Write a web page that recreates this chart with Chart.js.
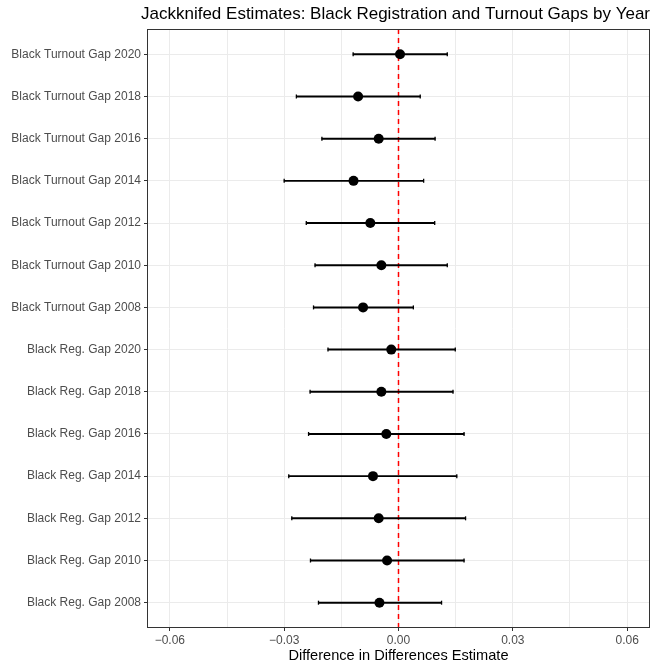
<!DOCTYPE html>
<html>
<head>
<meta charset="utf-8">
<script src="https://cdn.jsdelivr.net/npm/chart.js@4"></script>
<style>
  html, body { margin: 0; padding: 0; background: #fff; }
  #wrap { width: 658px; height: 668px; }
</style>
</head>
<body>
<div id="wrap"><canvas id="forest"></canvas></div>
<script>
// rows listed bottom to top
const labels = [
    'Black Reg. Gap 2008', 'Black Reg. Gap 2010', 'Black Reg. Gap 2012', 'Black Reg. Gap 2014',
    'Black Reg. Gap 2016', 'Black Reg. Gap 2018', 'Black Reg. Gap 2020',
    'Black Turnout Gap 2008', 'Black Turnout Gap 2010', 'Black Turnout Gap 2012', 'Black Turnout Gap 2014',
    'Black Turnout Gap 2016', 'Black Turnout Gap 2018', 'Black Turnout Gap 2020'
];
const estimates = [-0.0050, -0.0030, -0.0052, -0.0067, -0.0032, -0.0045, -0.0019,
                   -0.0093, -0.0045, -0.0074, -0.0118, -0.0052, -0.0106, 0.0004];
const lower = [-0.0210, -0.0231, -0.0280, -0.0288, -0.0236, -0.0232, -0.0185,
               -0.0223, -0.0219, -0.0242, -0.0300, -0.0201, -0.0268, -0.0119];
const upper = [0.0113, 0.0172, 0.0176, 0.0153, 0.0172, 0.0143, 0.0149,
               0.0039, 0.0128, 0.0095, 0.0066, 0.0096, 0.0057, 0.0128];
const xTicks = [-0.06, -0.045, -0.03, -0.015, 0, 0.015, 0.03, 0.045, 0.06];
const xTickLabels = {'-0.06': '\u22120.06', '-0.03': '\u22120.03', '0': '0.00', '0.03': '0.03', '0.06': '0.06'};

const FONT = '"Liberation Sans", Arial, sans-serif';

const pointData = estimates.map((v, i) => ({x: v, y: i}));
const barData = labels.map((l, i) => ({x: [lower[i], upper[i]], y: i}));
const capData = lower.map((v, i) => ({x: v, y: i})).concat(upper.map((v, i) => ({x: v, y: i})));

function isMajor(c) {
    return c && c.tick && xTickLabels[String(c.tick.value)] !== undefined;
}

// red dashed zero line, panel border and titles
const extras = {
    id: 'extras',
    beforeDatasetsDraw(chart) {
        const ctx = chart.ctx, a = chart.chartArea;
        const x0 = chart.scales.x.getPixelForValue(0);
        ctx.save();
        ctx.strokeStyle = '#FF0000';
        ctx.lineWidth = 1.5;
        ctx.setLineDash([5, 4]);
        ctx.beginPath();
        ctx.moveTo(x0, a.top);
        ctx.lineTo(x0, a.bottom);
        ctx.stroke();
        ctx.restore();
    },
    afterDraw(chart) {
        const ctx = chart.ctx, a = chart.chartArea;
        ctx.save();
        ctx.strokeStyle = '#333333';
        ctx.lineWidth = 1;
        ctx.strokeRect(Math.round(a.left) + 0.5, Math.round(a.top) + 0.5,
                       Math.round(a.right - a.left) - 1, Math.round(a.bottom - a.top) - 1);
        ctx.fillStyle = '#000';
        ctx.font = '17px ' + FONT;
        ctx.textBaseline = 'alphabetic';
        ctx.textAlign = 'left';
        ctx.fillText('Jackknifed Estimates: Black Registration and Turnout Gaps by Year', 141, 19);
        ctx.font = '14.6px ' + FONT;
        ctx.textAlign = 'center';
        ctx.fillText('Difference in Differences Estimate', (a.left + a.right) / 2, 660);
        ctx.restore();
    }
};

const ctx = document.getElementById('forest').getContext('2d');
new Chart(ctx, {
    type: 'bar',
    data: {
        datasets: [{
            type: 'scatter',
            data: pointData,
            pointRadius: 5,
            pointHoverRadius: 5,
            backgroundColor: '#000',
            borderColor: '#000',
            borderWidth: 0
        }, {
            type: 'scatter',
            data: capData,
            pointStyle: 'line',
            rotation: 90,
            pointRadius: 2,
            pointHoverRadius: 2,
            borderColor: '#000',
            borderWidth: 1.3
        }, {
            type: 'bar',
            indexAxis: 'y',
            data: barData,
            barThickness: 1.3,
            backgroundColor: '#000',
            borderWidth: 0
        }]
    },
    options: {
        responsive: true,
        maintainAspectRatio: false,
        animation: false,
        layout: {padding: {top: 29, right: 8, left: 0, bottom: 0}},
        plugins: {
            legend: {display: false},
            tooltip: {enabled: false},
            title: {display: false}
        },
        scales: {
            x: {
                type: 'linear',
                offset: false,
                min: -0.066,
                max: 0.066,
                afterBuildTicks(scale) {
                    scale.ticks = xTicks.map(v => ({value: v}));
                },
                afterFit(scale) { scale.height = 40; },
                border: {display: false},
                grid: {
                    offset: false,
                    color: '#EBEBEB',
                    lineWidth: 1,
                    tickLength: 3,
                    tickColor: c => (isMajor(c) ? '#333333' : 'rgba(0,0,0,0)')
                },
                ticks: {
                    autoSkip: false,
                    maxRotation: 0,
                    padding: 2,
                    color: '#4D4D4D',
                    font: {family: FONT, size: 12},
                    callback: v => (xTickLabels[String(v)] !== undefined ? xTickLabels[String(v)] : '')
                }
            },
            y: {
                type: 'linear',
                offset: false,
                min: -0.6,
                max: labels.length - 0.4,
                afterBuildTicks(scale) {
                    scale.ticks = labels.map((l, i) => ({value: i}));
                },
                afterFit(scale) { scale.width = 147; },
                border: {display: false},
                grid: {
                    offset: false,
                    color: '#EBEBEB',
                    lineWidth: 1,
                    tickLength: 3,
                    tickColor: '#333333'
                },
                ticks: {
                    autoSkip: false,
                    padding: 3,
                    color: '#4D4D4D',
                    font: {family: FONT, size: 12},
                    callback: v => (labels[v] !== undefined ? labels[v] : '')
                }
            }
        }
    },
    plugins: [extras]
});
</script>
</body>
</html>
